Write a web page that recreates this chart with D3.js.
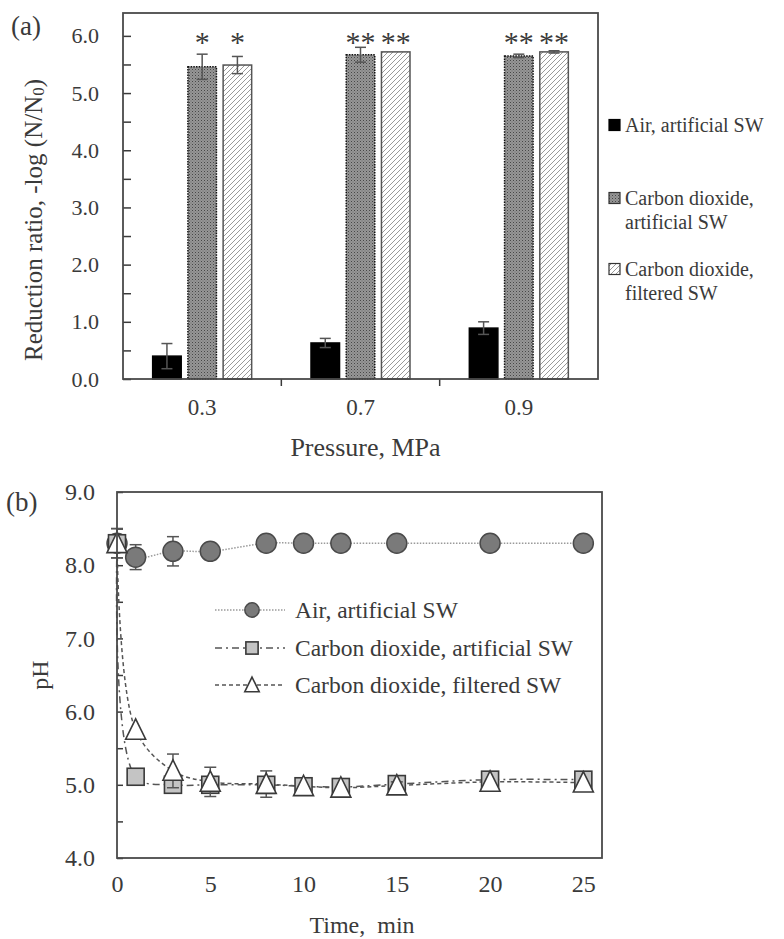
<!DOCTYPE html>
<html>
<head>
<meta charset="utf-8">
<script src="https://cdn.jsdelivr.net/npm/d3@7"></script>
<style>
  html, body { margin: 0; padding: 0; background: #fff; }
  svg { display: block; }
  text { font-family: "Liberation Serif", "Times New Roman", serif; fill: #3a3a3a; }
</style>
</head>
<body>
<svg id="chart" width="784" height="939"></svg>
<script>
// ---------- Panel (a): log reduction vs. pressure ----------
const pressures = ["0.3", "0.7", "0.9"];
const barSeries = ["air", "co2Artificial", "co2Filtered"];
const airArtificial = [0.40, 0.63, 0.89];
const airArtificialErr = [0.22, 0.08, 0.11];
const co2Artificial = [5.46, 5.67, 5.65];
const co2ArtificialErr = [0.22, 0.13, 0.03];
const co2Filtered = [5.49, 5.72, 5.72];
const co2FilteredErr = [0.15, 0.00, 0.02];
const significance = [["", "*", "*"], ["", "**", "**"], ["", "**", "**"]];
const reductionTicks = [0, 0.5, 1, 1.5, 2, 2.5, 3, 3.5, 4, 4.5, 5, 5.5, 6];
const barLegend = [["Air, artificial SW"], ["Carbon dioxide,", "artificial SW"], ["Carbon dioxide,", "filtered SW"]];

// ---------- Panel (b): pH vs. time ----------
const times = [0, 1, 3, 5, 8, 10, 12, 15, 20, 25];
const phAir = [8.30, 8.11, 8.19, 8.19, 8.30, 8.30, 8.30, 8.30, 8.30, 8.30];
const phAirErr = [0, 0.17, 0.20, 0, 0, 0, 0, 0, 0, 0];
const phCo2Artificial = [8.30, 5.11, 5.00, 5.00, 5.00, 4.98, 4.97, 5.01, 5.07, 5.07];
const phCo2ArtificialErr = [0.20, 0, 0, 0, 0, 0, 0, 0, 0, 0];
const phCo2Filtered = [8.30, 5.75, 5.19, 5.04, 5.01, 4.98, 4.96, 4.99, 5.04, 5.03];
const phCo2FilteredErr = [0.20, 0, 0.23, 0.20, 0.18, 0, 0, 0.05, 0, 0];
const phTicks = [4, 4.5, 5, 5.5, 6, 6.5, 7, 7.5, 8, 8.5, 9];
const timeTicks = [0, 5, 10, 15, 20, 25];
const lineLegend = ["Air, artificial SW", "Carbon dioxide, artificial SW", "Carbon dioxide, filtered SW"];

const svg = d3.select("#chart");
const ink = "#3a3a3a";

// Fill patterns for the bars
const defs = svg.append("defs");
const dots = defs.append("pattern").attr("id", "dots")
  .attr("patternUnits", "userSpaceOnUse").attr("width", 3).attr("height", 3);
dots.append("rect").attr("width", 3).attr("height", 3).attr("fill", "#969696");
dots.append("rect").attr("width", 1).attr("height", 1).attr("fill", "#474747");
dots.append("rect").attr("x", 1.5).attr("y", 1.5).attr("width", 1).attr("height", 1).attr("fill", "#6a6a6a");

const hatch = defs.append("pattern").attr("id", "hatch")
  .attr("patternUnits", "userSpaceOnUse").attr("width", 5).attr("height", 5);
hatch.append("rect").attr("width", 5).attr("height", 5).attr("fill", "#fff");
hatch.append("path").attr("d", "M-1,1 l2,-2 M0,5 l5,-5 M4,6 l2,-2")
  .attr("stroke", "#9a9a9a").attr("stroke-width", 1);

// ================= Panel (a) =================
const A = { left: 123, right: 598, top: 13, bottom: 379 };
const xA = d3.scaleBand().domain(pressures).range([A.left, A.right]).padding(0);
const yA = d3.scaleLinear().domain([0, 6.4]).range([A.bottom, A.top]);
const xInner = d3.scaleBand().domain(barSeries).range([0, 99]).paddingInner(0.19).paddingOuter(0);

const barValues = { air: airArtificial, co2Artificial: co2Artificial, co2Filtered: co2Filtered };
const barErrors = { air: airArtificialErr, co2Artificial: co2ArtificialErr, co2Filtered: co2FilteredErr };
const barStyle = {
  air: { fill: "#000", stroke: "#000", dash: null },
  co2Artificial: { fill: "url(#dots)", stroke: "#111", dash: "1.5,1.2" },
  co2Filtered: { fill: "url(#hatch)", stroke: "#555", dash: null }
};

const gA = svg.append("g");

// y axis with inward ticks, labels on whole numbers
gA.append("g")
  .attr("transform", `translate(${A.left},0)`)
  .call(d3.axisLeft(yA).tickValues(reductionTicks).tickSize(-8).tickPadding(24)
    .tickFormat(d => Number.isInteger(d) ? d.toFixed(1) : ""))
  .call(g => g.select(".domain").remove())
  .call(g => g.selectAll("line").attr("stroke", ink).attr("stroke-width", 1.5))
  .call(g => g.selectAll("text").attr("font-size", 22).attr("fill", ink)
    .style("font-family", '"Liberation Serif", serif'));

// x axis labels
gA.append("g")
  .attr("transform", `translate(0,${A.bottom})`)
  .call(d3.axisBottom(xA).tickSize(0).tickPadding(20))
  .call(g => g.select(".domain").remove())
  .call(g => g.selectAll("text").attr("font-size", 23).attr("fill", ink)
    .style("font-family", '"Liberation Serif", serif'));

// category separator ticks below the axis
gA.selectAll("line.sep").data(pressures.slice(1)).join("line")
  .attr("x1", d => xA(d)).attr("x2", d => xA(d))
  .attr("y1", A.bottom).attr("y2", A.bottom + 7)
  .attr("stroke", ink).attr("stroke-width", 1.5);

// bars
pressures.forEach((p, i) => {
  const gx = xA(p) + (xA.bandwidth() - 99) / 2;
  barSeries.forEach(s => {
    const v = barValues[s][i];
    const st = barStyle[s];
    gA.append("rect")
      .attr("x", gx + xInner(s)).attr("width", xInner.bandwidth())
      .attr("y", yA(v)).attr("height", yA(0) - yA(v))
      .attr("fill", st.fill).attr("stroke", st.stroke).attr("stroke-width", 1.5)
      .attr("stroke-dasharray", st.dash);
  });
  // error bars
  barSeries.forEach(s => {
    const v = barValues[s][i], e = barErrors[s][i];
    if (!e) return;
    const cx = gx + xInner(s) + xInner.bandwidth() / 2;
    const eg = gA.append("g").attr("stroke", "#555").attr("stroke-width", 1.5);
    eg.append("line").attr("x1", cx).attr("x2", cx).attr("y1", yA(v - e)).attr("y2", yA(v + e));
    [v - e, v + e].forEach(y => eg.append("line")
      .attr("x1", cx - 5.5).attr("x2", cx + 5.5).attr("y1", yA(y)).attr("y2", yA(y)));
  });
  // significance marks
  barSeries.forEach((s, j) => {
    const mark = significance[i][j];
    if (!mark) return;
    const cx = gx + xInner(s) + xInner.bandwidth() / 2;
    gA.append("text").attr("x", cx).attr("y", yA(5.72))
      .attr("text-anchor", "middle").attr("font-size", 30).attr("fill", "#222").text(mark);
  });
});

// frame
gA.append("rect").attr("x", A.left).attr("y", A.top)
  .attr("width", A.right - A.left).attr("height", A.bottom - A.top)
  .attr("fill", "none").attr("stroke", "#4a4a4a").attr("stroke-width", 1.8);

// axis titles
gA.append("text").attr("transform", `translate(33,220) rotate(-90)`)
  .attr("text-anchor", "middle").attr("dominant-baseline", "central").attr("font-size", 25)
  .call(t => {
    t.append("tspan").text("Reduction ratio, -log (N/N");
    t.append("tspan").attr("font-size", 17).attr("dy", 5).text("0");
    t.append("tspan").attr("dy", -5).text(")");
  });
gA.append("text").attr("x", (A.left + A.right) / 2 + 5).attr("y", 447)
  .attr("text-anchor", "middle").attr("dominant-baseline", "central").attr("font-size", 26)
  .text("Pressure, MPa");
gA.append("text").attr("x", 11).attr("y", 26).attr("dominant-baseline", "central")
  .attr("font-size", 27).text("(a)");

// legend (a)
const legA = gA.append("g");
const legAY = [125, 198, 269];
barSeries.forEach((s, i) => {
  const st = barStyle[s];
  legA.append("rect").attr("x", 609).attr("y", legAY[i] - 5.5).attr("width", 11).attr("height", 11)
    .attr("fill", st.fill).attr("stroke", s === "air" ? "#000" : "#333").attr("stroke-width", 1.2);
  barLegend[i].forEach((line, k) => {
    legA.append("text").attr("x", 625).attr("y", legAY[i] + k * 24)
      .attr("dominant-baseline", "central").attr("font-size", 20).text(line);
  });
});

// ================= Panel (b) =================
const B = { left: 117, right: 602, top: 492, bottom: 858 };
const xB = d3.scaleLinear().domain([0, 26]).range([B.left, B.right]);
const yB = d3.scaleLinear().domain([4, 9]).range([B.bottom, B.top]);
const gB = svg.append("g");

gB.append("g")
  .attr("transform", `translate(${B.left},0)`)
  .call(d3.axisLeft(yB).tickValues(phTicks).tickSize(-6).tickPadding(22)
    .tickFormat(d => Number.isInteger(d) ? d.toFixed(1) : ""))
  .call(g => g.select(".domain").remove())
  .call(g => g.selectAll("line").attr("stroke", ink).attr("stroke-width", 1.5))
  .call(g => g.selectAll("text").attr("font-size", 24).attr("fill", ink)
    .style("font-family", '"Liberation Serif", serif'));

gB.append("g")
  .attr("transform", `translate(0,${B.bottom})`)
  .call(d3.axisBottom(xB).tickValues(timeTicks).tickSize(0).tickPadding(17).tickFormat(d3.format("d")))
  .call(g => g.select(".domain").remove())
  .call(g => g.selectAll("text").attr("font-size", 24).attr("fill", ink)
    .style("font-family", '"Liberation Serif", serif'));

const series = [
  { vals: phAir, err: phAirErr, dash: "1.5,1.5", color: "#9a9a9a", width: 1.5, marker: "circle" },
  { vals: phCo2Artificial, err: phCo2ArtificialErr, dash: "7,4,2,4", color: "#555", width: 1.5, marker: "square" },
  { vals: phCo2Filtered, err: phCo2FilteredErr, dash: "4,3", color: "#555", width: 1.5, marker: "triangle" }
];

const line = d3.line().curve(d3.curveCatmullRom.alpha(0.5));
series.forEach(s => {
  gB.append("path")
    .attr("d", line(times.map((t, i) => [xB(t), yB(s.vals[i])])))
    .attr("fill", "none").attr("stroke", s.color).attr("stroke-width", s.width)
    .attr("stroke-dasharray", s.dash);
});

function drawMarker(g, type, cx, cy, scale) {
  if (type === "circle") {
    g.append("circle").attr("cx", cx).attr("cy", cy).attr("r", 10 * scale)
      .attr("fill", "#7a7a7a").attr("stroke", "#4a4a4a").attr("stroke-width", 1.5);
  } else if (type === "square") {
    const h = 8.5 * scale;
    g.append("rect").attr("x", cx - h).attr("y", cy - h).attr("width", 2 * h).attr("height", 2 * h)
      .attr("fill", "#c4c4c4").attr("stroke", "#3a3a3a").attr("stroke-width", 1.6);
  } else {
    const w = 10 * scale, h = 11 * scale;
    g.append("path").attr("d", `M${cx},${cy - h} L${cx + w},${cy + h * 0.85} L${cx - w},${cy + h * 0.85} Z`)
      .attr("fill", "#fff").attr("stroke", "#3a3a3a").attr("stroke-width", 1.6);
  }
}

series.forEach(s => {
  const eg = gB.append("g").attr("stroke", "#555").attr("stroke-width", 1.5);
  times.forEach((t, i) => {
    const e = s.err[i];
    if (!e) return;
    const cx = xB(t), v = s.vals[i];
    eg.append("line").attr("x1", cx).attr("x2", cx).attr("y1", yB(v - e)).attr("y2", yB(v + e));
    [v - e, v + e].forEach(y => eg.append("line")
      .attr("x1", cx - 6).attr("x2", cx + 6).attr("y1", yB(y)).attr("y2", yB(y)));
  });
  times.forEach((t, i) => drawMarker(gB, s.marker, xB(t), yB(s.vals[i]), 1));
});

gB.append("rect").attr("x", B.left).attr("y", B.top)
  .attr("width", B.right - B.left).attr("height", B.bottom - B.top)
  .attr("fill", "none").attr("stroke", "#4a4a4a").attr("stroke-width", 1.8);

// legend (b)
const legYs = [610, 648, 685];
series.forEach((s, i) => {
  const y = legYs[i];
  gB.append("line").attr("x1", 215).attr("x2", 285).attr("y1", y).attr("y2", y)
    .attr("stroke", s.color).attr("stroke-width", s.width).attr("stroke-dasharray", s.dash);
  drawMarker(gB, s.marker, 252, y, 0.72);
  gB.append("text").attr("x", 295).attr("y", y).attr("dominant-baseline", "central")
    .attr("font-size", 23.5).text(lineLegend[i]);
});

// titles
gB.append("text").attr("transform", `translate(40,${(B.top + B.bottom) / 2}) rotate(-90)`)
  .attr("text-anchor", "middle").attr("dominant-baseline", "central").attr("font-size", 24).text("pH");
gB.append("text").attr("x", 362).attr("y", 925).attr("text-anchor", "middle")
  .attr("dominant-baseline", "central").attr("font-size", 24).style("white-space", "pre")
  .text("Time,  min");
gB.append("text").attr("x", 6).attr("y", 502).attr("dominant-baseline", "central")
  .attr("font-size", 27).text("(b)");
</script>
</body>
</html>
